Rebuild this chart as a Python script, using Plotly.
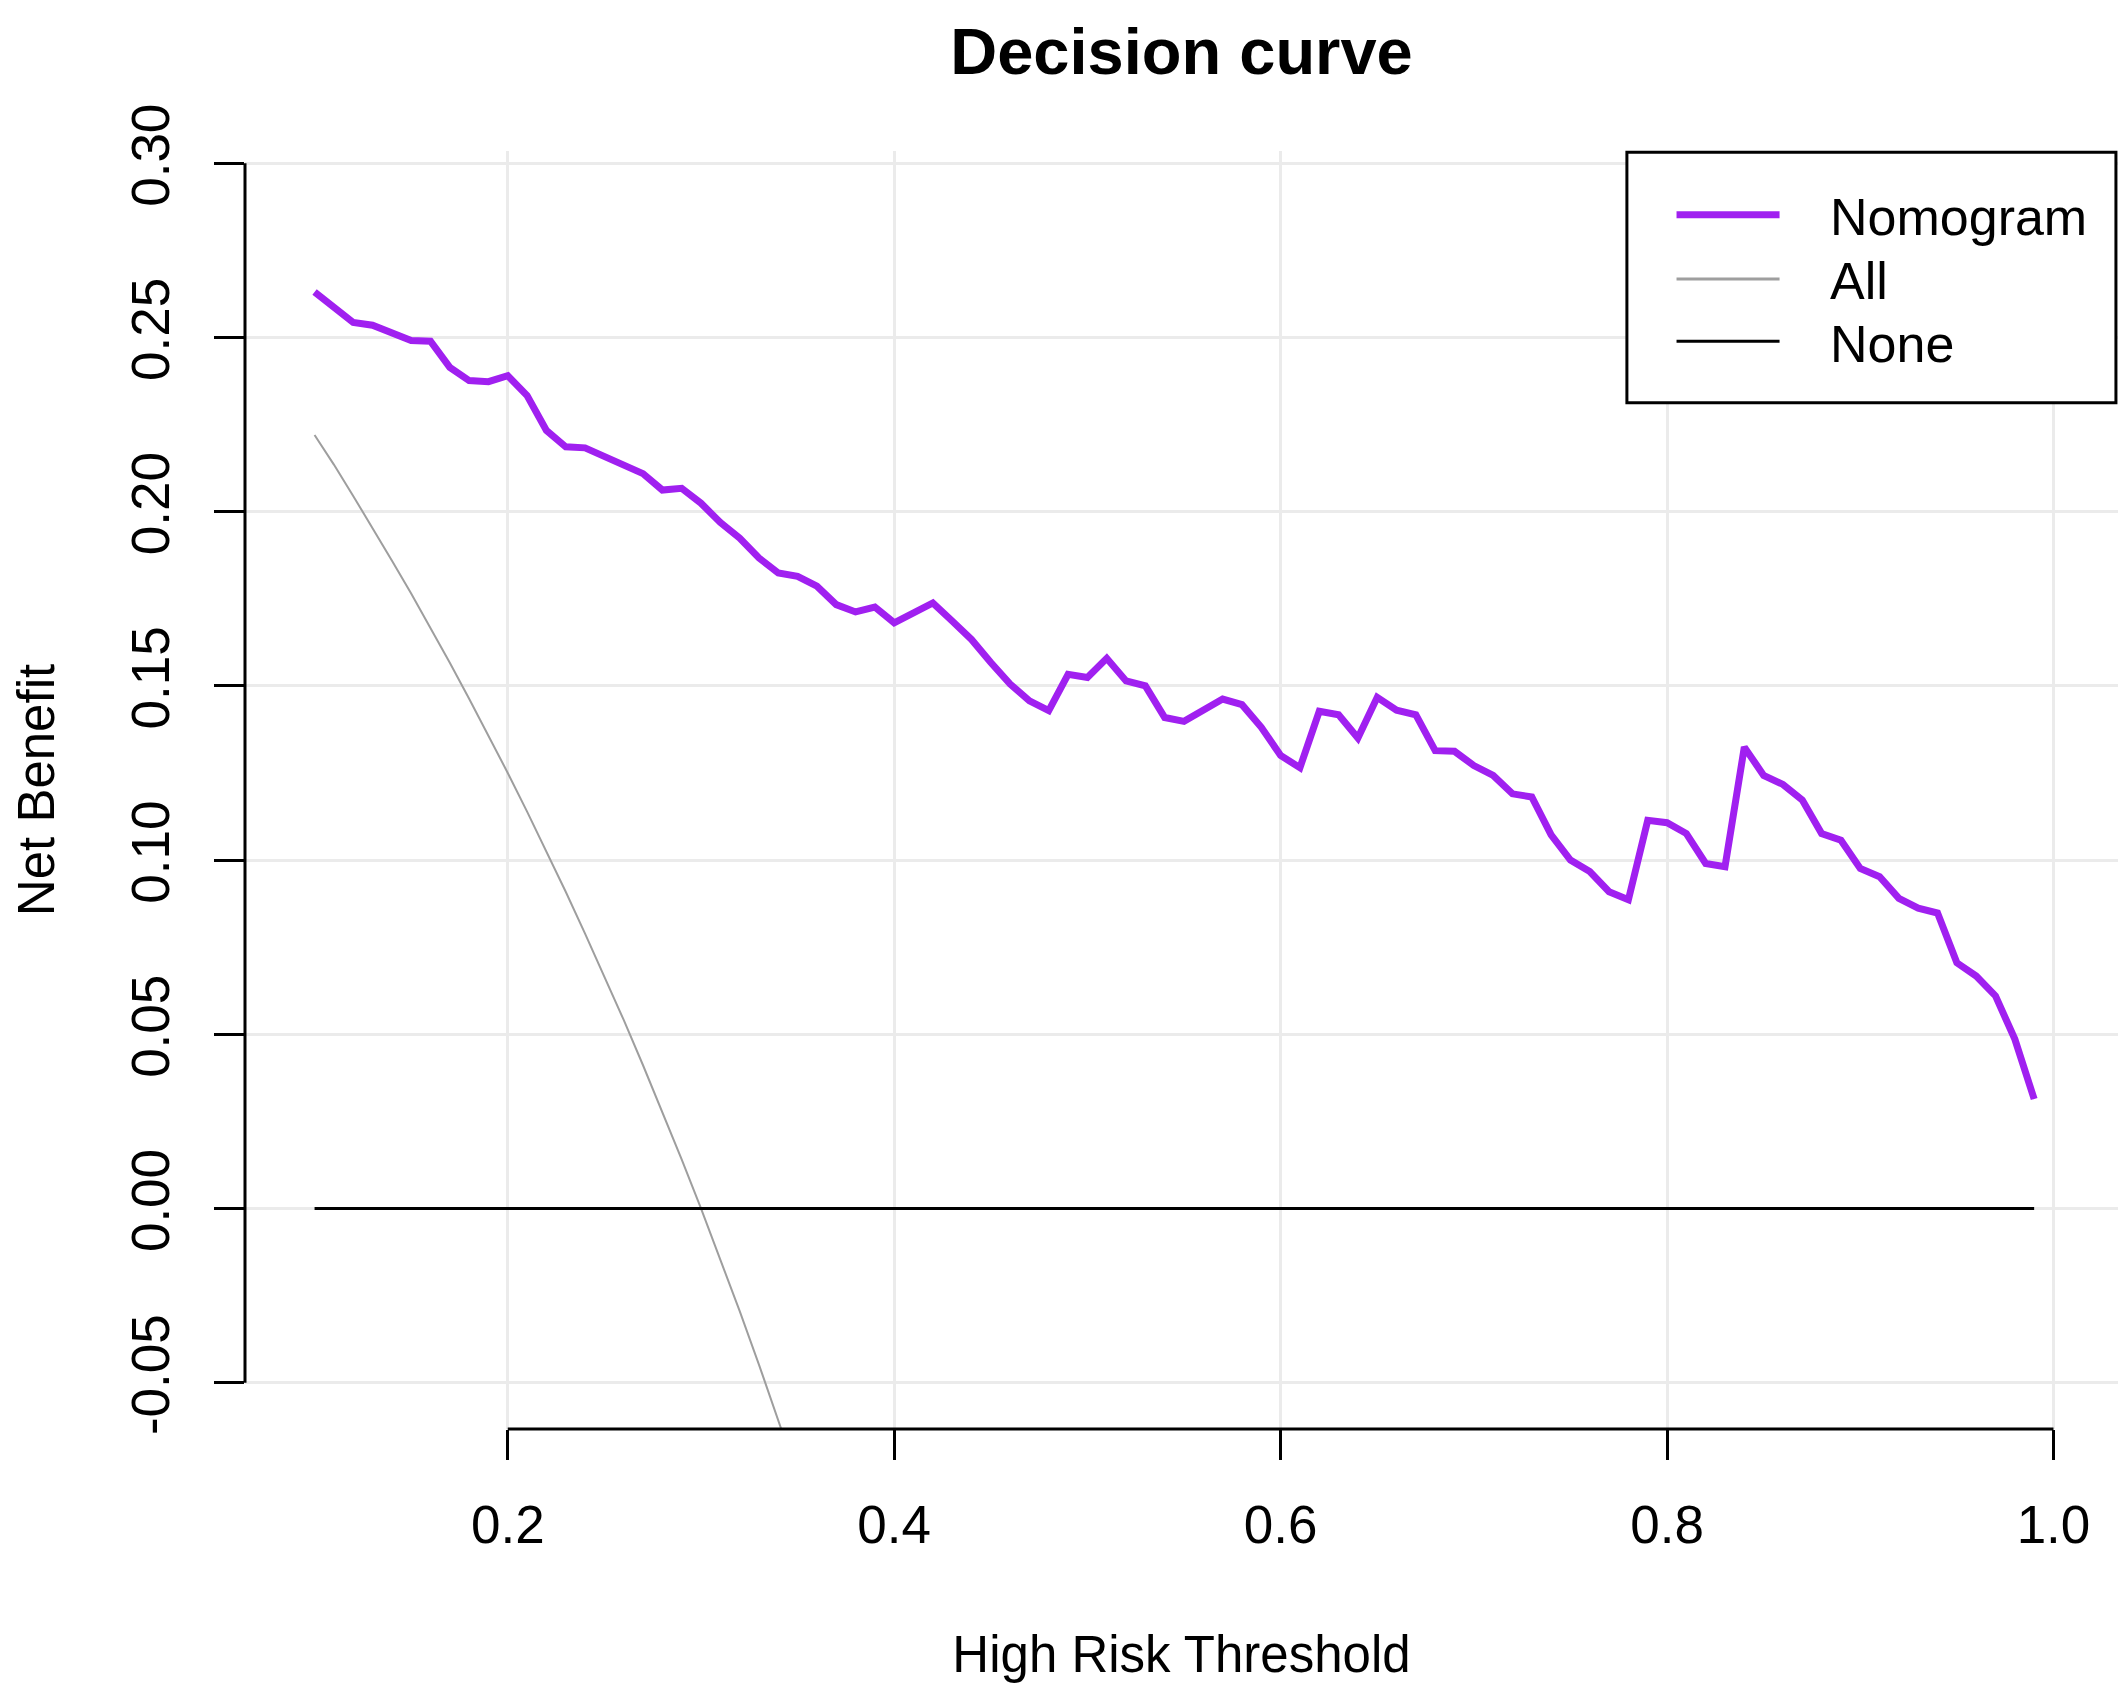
#############################################
########## Decision curve
#############################################
import plotly.graph_objects as go

##### Data #####
thresholds = [0.10, 0.11, 0.12, 0.13, 0.14, 0.15, 0.16, 0.17, 0.18, 0.19,
              0.20, 0.21, 0.22, 0.23, 0.24, 0.25, 0.26, 0.27, 0.28, 0.29,
              0.30, 0.31, 0.32, 0.33, 0.34, 0.35, 0.36, 0.37, 0.38, 0.39,
              0.40, 0.41, 0.42, 0.43, 0.44, 0.45, 0.46, 0.47, 0.48, 0.49,
              0.50, 0.51, 0.52, 0.53, 0.54, 0.55, 0.56, 0.57, 0.58, 0.59,
              0.60, 0.61, 0.62, 0.63, 0.64, 0.65, 0.66, 0.67, 0.68, 0.69,
              0.70, 0.71, 0.72, 0.73, 0.74, 0.75, 0.76, 0.77, 0.78, 0.79,
              0.80, 0.81, 0.82, 0.83, 0.84, 0.85, 0.86, 0.87, 0.88, 0.89,
              0.90, 0.91, 0.92, 0.93, 0.94, 0.95, 0.96, 0.97, 0.98, 0.99]

nomogram_nb = [0.263, 0.2586, 0.2543, 0.2535, 0.2512, 0.2491, 0.2489, 0.2414, 0.2376, 0.2373,
               0.239, 0.2333, 0.2233, 0.2186, 0.2183, 0.2157, 0.2135, 0.2109, 0.2062, 0.2067,
               0.2024, 0.1969, 0.1924, 0.1867, 0.1824, 0.1814, 0.1786, 0.1733, 0.1712, 0.1726,
               0.1681, 0.1709, 0.1738, 0.1686, 0.1633, 0.1567, 0.1505, 0.1457, 0.1429, 0.1533,
               0.1524, 0.1579, 0.1514, 0.15, 0.1409, 0.1398, 0.143, 0.1462, 0.1446, 0.1381,
               0.13, 0.1265, 0.1427, 0.1417, 0.135, 0.1467, 0.143, 0.1417, 0.1314, 0.1312,
               0.1271, 0.1243, 0.119, 0.1181, 0.1072, 0.1, 0.0967, 0.0909, 0.0886, 0.1114,
               0.1107, 0.1076, 0.099, 0.0981, 0.1324, 0.1243, 0.1217, 0.1172, 0.1076, 0.1057,
               0.0976, 0.0952, 0.089, 0.0862, 0.0848, 0.0705, 0.0667, 0.061, 0.0486, 0.0314]

# "treat all" line, only the visible part (it leaves the plot below -0.06)
all_thresholds = [0.10, 0.11, 0.12, 0.13, 0.14, 0.15, 0.16, 0.17, 0.18, 0.19,
                  0.20, 0.21, 0.22, 0.23, 0.24, 0.25, 0.26, 0.27, 0.28, 0.29,
                  0.30, 0.31, 0.32, 0.33, 0.34, 0.35, 0.36]
all_nb = [0.222, 0.2135, 0.2045, 0.1954, 0.186, 0.1765, 0.1667, 0.1566, 0.1463, 0.1358,
          0.125, 0.1139, 0.1026, 0.0909, 0.0789, 0.0667, 0.0541, 0.0411, 0.0278, 0.0141,
          0.0, -0.0145, -0.0294, -0.0448, -0.0606, -0.0769, -0.0938]

none_thresholds = [0.10, 0.99]
none_nb = [0.0, 0.0]

x_ticks = [0.2, 0.4, 0.6, 0.8, 1.0]
x_tick_labels = ['0.2', '0.4', '0.6', '0.8', '1.0']
y_ticks = [-0.05, 0.00, 0.05, 0.10, 0.15, 0.20, 0.25, 0.30]
y_tick_labels = ['-0.05', '0.00', '0.05', '0.10', '0.15', '0.20', '0.25', '0.30']

series_names = ['Nomogram', 'All', 'None']
series_colors = ['#A020F0', '#9E9E9E', 'black']
series_widths = [7, 2, 3]

##### Style #####
FONT = 'Liberation Sans, Arial, sans-serif'
GRID = '#EBEBEB'

#############################################
########## Traces
#############################################
fig = go.Figure()

series_data = [(thresholds, nomogram_nb), (all_thresholds, all_nb), (none_thresholds, none_nb)]
for (xs, ys), name, color, width in zip(series_data, series_names, series_colors, series_widths):
    fig.add_trace(go.Scatter(x=xs, y=ys, mode='lines', name=name,
                             line=dict(color=color, width=width)))

#############################################
########## Layout
#############################################
axis_common = dict(showgrid=True, gridcolor=GRID, gridwidth=3, zeroline=False, showline=False,
                   ticks='outside', ticklen=30, tickwidth=3, tickcolor='black',
                   tickfont=dict(family=FONT, size=53, color='black'))

# R-style axis lines spanning first to last tick only
shapes = [
    dict(type='line', xref='paper', yref='y', x0=0, x1=0, y0=y_ticks[0], y1=y_ticks[-1],
         line=dict(color='black', width=3)),
    dict(type='line', xref='x', yref='paper', x0=x_ticks[0], x1=x_ticks[-1], y0=0, y1=0,
         line=dict(color='black', width=3)),
]

# legend box drawn like R's legend("topright")
shapes.append(dict(type='rect', xref='paper', yref='paper', x0=0.7378, x1=0.9989, y0=0.803, y1=0.999,
                   line=dict(color='black', width=3), fillcolor='white', layer='above'))
legend_rows = [0.9502, 0.8999, 0.8512]
annotations = []
for row_y, name, color, width in zip(legend_rows, series_names, series_colors, series_widths):
    shapes.append(dict(type='line', xref='paper', yref='paper', x0=0.7643, x1=0.8193, y0=row_y, y1=row_y,
                       line=dict(color=color, width=width if width > 2 else 3), layer='above'))
    annotations.append(dict(text=name, xref='paper', yref='paper', x=0.8452, y=row_y - 0.002,
                            xanchor='left', yanchor='middle', showarrow=False,
                            font=dict(family=FONT, size=52, color='black')))

fig.update_layout(
    width=2110, height=1675,
    margin=dict(l=237, r=0, t=143, b=248),
    plot_bgcolor='white', paper_bgcolor='white',
    showlegend=False,
    font=dict(family=FONT, color='black'),
    title=dict(text='<b>Decision curve</b>', x=0.5, xref='paper', y=1 - 20 / 1675, yref='container',
               xanchor='center', yanchor='top', font=dict(family=FONT, size=65, color='black')),
    xaxis=dict(range=[0.064, 1.0334], tickvals=x_ticks, ticktext=x_tick_labels,
               ticklabelstandoff=19,
               title=dict(text='High Risk Threshold', font=dict(family=FONT, size=51), standoff=94),
               **axis_common),
    yaxis=dict(range=[-0.0633, 0.3035], tickvals=y_ticks, ticktext=y_tick_labels, tickangle=-90,
               ticklabelstandoff=24,
               title=dict(text='Net Benefit', font=dict(family=FONT, size=51), standoff=77),
               **axis_common),
    shapes=shapes,
    annotations=annotations,
)

fig.write_html('out.html')
